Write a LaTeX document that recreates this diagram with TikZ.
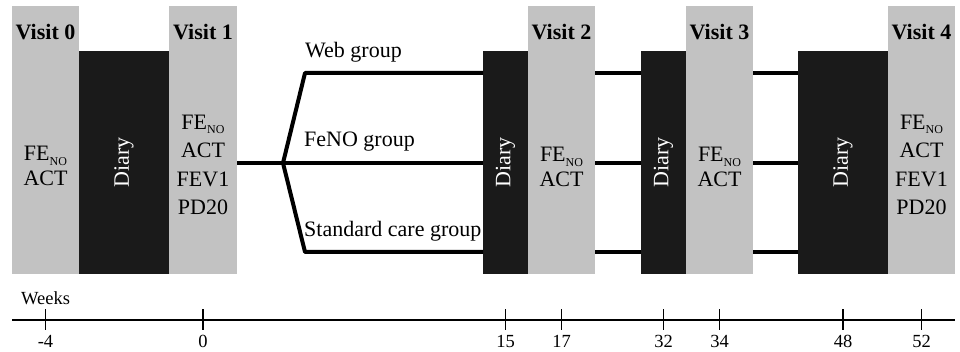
\documentclass[tikz,border=0pt]{standalone}
\usepackage{fontspec}
\setmainfont{Liberation Serif}
\usetikzlibrary{positioning}
\definecolor{visitgray}{RGB}{194,194,194}
\definecolor{diaryblack}{RGB}{26,26,26}
\newcommand{\feno}{FE\raisebox{-0.45ex}{\fontsize{12}{12}\selectfont NO}}

\begin{document}
\begin{tikzpicture}[x=1pt, y=-1pt,
    box/.style={anchor=north west, inner sep=0pt, outer sep=0pt, draw=none},
    visit/.style={box, fill=visitgray, minimum width=67pt, minimum height=268pt},
    diary/.style={box, fill=diaryblack, minimum height=223pt},
    title/.style={font=\fontsize{22}{26}\selectfont\bfseries, anchor=base, inner sep=0pt},
    tests/.style={font=\fontsize{22}{28.5}\selectfont, align=center, inner sep=0pt},
    tests2/.style={font=\fontsize{22}{25}\selectfont, align=center, inner sep=0pt},
    dlabel/.style={font=\fontsize{22}{26}\selectfont, text=white, rotate=90},
    group/.style={font=\fontsize{22}{26}\selectfont, anchor=base west, inner sep=0pt},
    arm/.style={line width=4pt, line join=round},
    axis/.style={line width=1.8pt},
    wk/.style={font=\fontsize{18.5}{22}\selectfont, inner sep=0pt}]
\useasboundingbox (0,0) rectangle (960,352);

% visits and diary periods
\node[visit] (v0) at (12,6) {};
\node[diary, minimum width=90pt] (d0) at (79,51) {};
\node[visit, minimum width=68pt] (v1) at (169,6) {};
\node[diary, minimum width=45pt] (d2) at (483,51) {};
\node[visit] (v2) at (528,6) {};
\node[diary, minimum width=45pt] (d3) at (641,51) {};
\node[visit] (v3) at (686,6) {};
\node[diary, minimum width=90pt] (d4) at (798,51) {};
\node[visit] (v4) at (888,6) {};

\coordinate (ttl) at (0,40);
\foreach \n/\k in {v0/0, v1/1, v2/2, v3/3, v4/4}
    \node[title] (t\n) at (\n.north |- ttl) {Visit \k};

\foreach \n in {d0, d2, d3, d4}
    \node[dlabel] (l\n) at (\n.center) {Diary};

\node[tests2] (s0) at (45.5,166) {\feno\\ACT};
\node[tests] (s1) at (203,165) {\feno\\ACT\\FEV1\\PD20};
\node[tests2] (s2) at (561.5,167) {\feno\\ACT};
\node[tests2] (s3) at (719.5,167) {\feno\\ACT};
\node[tests] (s4) at (921.5,165) {\feno\\ACT\\FEV1\\PD20};

% study arms
\coordinate (split) at (283,163);
\coordinate (webY) at (0,73);
\coordinate (fenoY) at (0,163);
\coordinate (stdY) at (0,252);
\coordinate (webbend) at (305,73);
\coordinate (stdbend) at (305,252);

\draw[arm] (v1.east |- fenoY) -- (split) -- (d2.west |- fenoY);
\draw[arm] (d2.west |- webY) -- (webbend) -- (split) -- (stdbend) -- (d2.west |- stdY);
\foreach \a/\b in {v2/d3, v3/d4}
    \foreach \yy in {webY, fenoY, stdY}
        \draw[arm] (\a.east |- \yy) -- (\b.west |- \yy);

\node[group] (gweb) at (305,58) {Web group};
\node[group] (gfeno) at (304,147) {FeNO group};
\node[group] (gstd) at (304,237) {Standard care group};

% time line
\coordinate (axL) at (12,320);
\coordinate (axR) at (955,320);
\draw[axis] (axL) -- (axR);
\node[wk, anchor=base west] (weeks) at (21,305) {Weeks};
\foreach \n/\w in {v0/-4, v1/0, d2/15, v2/17, d3/32, v3/34, d4/48, v4/52} {
    \coordinate (tk\n) at (\n.south |- axL);
    \draw[axis] ([yshift=11pt]tk\n) -- ([yshift=-10pt]tk\n);
    \node[wk, anchor=base] (w\n) at ([yshift=-27pt]tk\n) {\w};
}
\end{tikzpicture}
\end{document}
